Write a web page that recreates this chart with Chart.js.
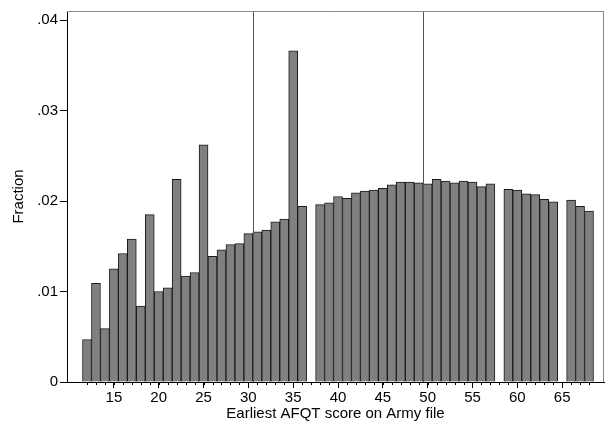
<!DOCTYPE html>
<html>
<head>
<meta charset="utf-8">
<script src="https://cdn.jsdelivr.net/npm/chart.js@4/dist/chart.umd.min.js"></script>
<style>
  html, body { margin: 0; padding: 0; background: #fff; }
  #wrap { width: 606px; height: 428px; }
</style>
</head>
<body>
<div id="wrap"><canvas id="histChart"></canvas></div>
<script>
// AFQT scores and the share of recruits at each score
var scores = [12, 13, 14, 15, 16, 17, 18, 19, 20, 21, 22, 23, 24, 25, 26, 27, 28, 29, 30,
              31, 32, 33, 34, 35, 36, 37, 38, 39, 40, 41, 42, 43, 44, 45, 46, 47, 48, 49, 50,
              51, 52, 53, 54, 55, 56, 57, 58, 59, 60, 61, 62, 63, 64, 65, 66, 67, 68];
var fractions = [0.0047, 0.0109, 0.0059, 0.0125, 0.0142, 0.0158, 0.0084, 0.0185, 0.0100,
                 0.0104, 0.0224, 0.0117, 0.0121, 0.0262, 0.0139, 0.0146, 0.0152, 0.0153,
                 0.0164, 0.0166, 0.0168, 0.0177, 0.0180, 0.0366, 0.0194, null, 0.0196,
                 0.0198, 0.0205, 0.0203, 0.0209, 0.0211, 0.0212, 0.0214, 0.0218, 0.0221,
                 0.0221, 0.0220, 0.0219, 0.0224, 0.0222, 0.0220, 0.0222, 0.0221, 0.0216,
                 0.0219, null, 0.0213, 0.0212, 0.0208, 0.0207, 0.0202, 0.0199, null,
                 0.0201, 0.0194, 0.0189];
var xTickLabels = [15, 20, 25, 30, 35, 40, 45, 50, 55, 60, 65];
var yTickValues = [0, 0.01, 0.02, 0.03, 0.04];
var cutoffs = [30.5, 49.5];

var FONT = { family: 'Arial, "Liberation Sans", Helvetica, sans-serif', size: 15 };

// frame, minor ticks and the two cutoff lines
var extras = {
  id: 'extras',
  afterDatasetsDraw: function(chart) {
    var c = chart.ctx, a = chart.chartArea, xs = chart.scales.x;
    c.save();
    c.lineWidth = 1;
    c.strokeStyle = '#555';
    cutoffs.forEach(function(v) {
      var px = Math.round(xs.getPixelForValue(v)) + 0.5;
      c.beginPath(); c.moveTo(px, a.top); c.lineTo(px, a.bottom); c.stroke();
    });
    c.strokeStyle = '#888';
    c.beginPath();
    c.moveTo(a.left, a.top + 0.5); c.lineTo(a.right - 0.5, a.top + 0.5);
    c.lineTo(a.right - 0.5, a.bottom);
    c.stroke();
    c.strokeStyle = '#000';
    scores.forEach(function(s) {
      var px = Math.round(xs.getPixelForValue(s)) + 0.5;
      c.beginPath(); c.moveTo(px, a.bottom); c.lineTo(px, a.bottom + 3); c.stroke();
    });
    c.restore();
  }
};

var ctx = document.getElementById('histChart').getContext('2d');
var myChart = new Chart(ctx, {
  type: 'bar',
  data: {
    datasets: [{
      label: 'Fraction',
      data: scores.map(function(s, i) { return { x: s, y: fractions[i] }; }),
      backgroundColor: '#808080',
      borderColor: '#1a1a1a',
      borderWidth: 1,
      barPercentage: 1,
      categoryPercentage: 1
    }]
  },
  options: {
    responsive: true,
    maintainAspectRatio: false,
    animation: false,
    layout: { padding: { top: 6, right: 2, left: 0, bottom: 0 } },
    plugins: { legend: { display: false }, tooltip: { enabled: false } },
    scales: {
      x: {
        type: 'linear',
        offset: false,
        min: 9.77,
        max: 69.67,
        afterBuildTicks: function(axis) {
          axis.ticks = xTickLabels.map(function(v) { return { value: v }; });
        },
        afterFit: function(scale) { scale.height = 46; },
        grid: { drawOnChartArea: false, tickLength: 6, color: '#000', offset: false },
        border: { color: '#000' },
        ticks: { font: FONT, color: '#000', padding: 1, maxRotation: 0, autoSkip: false },
        title: { display: true, text: 'Earliest AFQT score on Army file', font: FONT, color: '#000',
                 padding: { top: 0, bottom: 5 } }
      },
      y: {
        min: 0,
        max: 0.041,
        afterBuildTicks: function(axis) {
          axis.ticks = yTickValues.map(function(v) { return { value: v }; });
        },
        afterFit: function(scale) { scale.width = 67; },
        grid: { drawOnChartArea: false, tickLength: 7, color: '#000' },
        border: { color: '#000' },
        ticks: {
          font: FONT, color: '#000', padding: 2,
          callback: function(v) { return v === 0 ? '0' : v.toFixed(2).replace(/^0/, ''); }
        },
        title: { display: true, text: 'Fraction', font: FONT, color: '#000',
                 padding: { top: 10, bottom: 0 } }
      }
    }
  },
  plugins: [extras]
});
</script>
</body>
</html>
